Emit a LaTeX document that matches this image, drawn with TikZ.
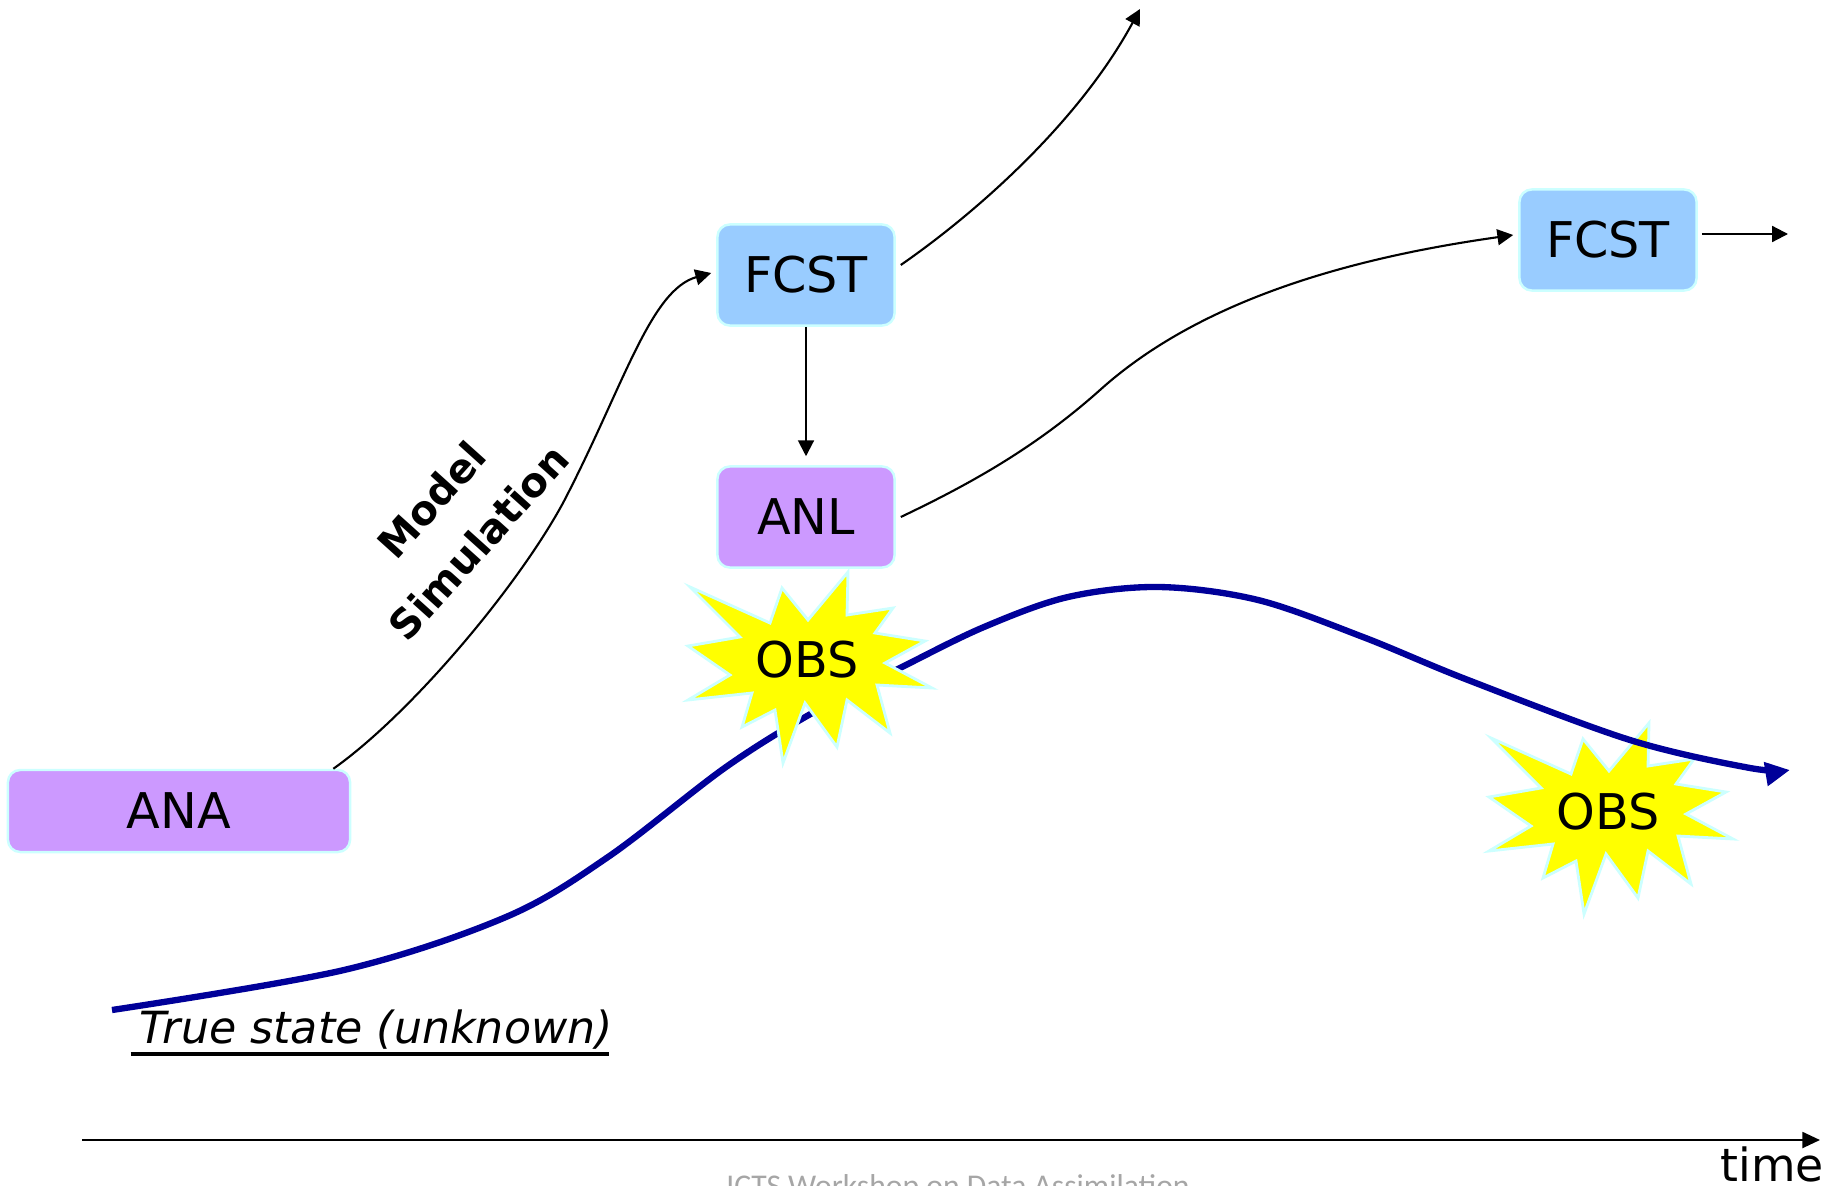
\documentclass[tikz,border=0pt]{standalone}
\usepackage{fontspec}
\setmainfont{DejaVu Sans}
\newfontfamily\icfootfont{Carlito}
\usetikzlibrary{arrows.meta}
\definecolor{anapurple}{HTML}{CC99FF}
\definecolor{fcstblue}{HTML}{99CCFF}
\definecolor{edgecyan}{HTML}{CCFFFF}
\definecolor{truenavy}{HTML}{000099}
\definecolor{obsyellow}{HTML}{FFFF00}
\definecolor{footgray}{HTML}{A6A6A6}
\tikzset{
  box/.style={draw=edgecyan, line width=0.7pt, rounded corners=3.5pt, inner sep=0pt, font=\fontsize{14}{16}\selectfont},
  anabox/.style={box, fill=anapurple},
  fcstbox/.style={box, fill=fcstblue},
  smallbox/.style={minimum width=1.77cm, minimum height=1.01cm},
  flow/.style={line width=0.6pt, -{Triangle[length=4.5pt,width=4.5pt]}},
  starshape/.style={fill=obsyellow, draw=edgecyan, line width=0.8pt, line join=miter},
  obstext/.style={font=\fontsize{14}{16}\selectfont, inner sep=0pt},
  truth/.style={draw=truenavy, line width=1.8pt, -{Triangle[length=7pt,width=6.5pt]}},
  obsstar/.pic={\draw[starshape] (-116,-78) -- (-36,-42) -- (-24,-77) -- (2,-45) -- (42,-93) -- (41,-50) -- (87,-57) -- (69,-32) -- (119,-24) -- (79,-2) -- (126,23) -- (71,20) -- (84,68) -- (41,35) -- (31,82) -- (-1,38) -- (-23,98) -- (-31,45) -- (-64,62) -- (-54,28) -- (-118,35) -- (-76,10) -- (-118,-19) -- (-66,-28) -- cycle;}
}
\begin{document}
\begin{tikzpicture}[x=0.01cm,y=-0.01cm]
\clip (0,0) rectangle (1837,1185);
\fill[white] (0,0) rectangle (1837,1185);

% boxes
\node[anabox, minimum width=3.42cm, minimum height=0.82cm] (ana) at (179,811) {ANA};
\node[fcstbox, smallbox] (fcst1) at (806,275) {FCST};
\node[anabox, smallbox] (anl) at (806,517) {ANL};
\node[fcstbox, smallbox] (fcst2) at (1608,240) {FCST};

% free ends
\coordinate (fcstup) at (1140,9);
\coordinate (fcst2out) at (1788,234);

% model simulation
\draw[flow] ([xshift=-0.18cm]ana.north east) .. controls (412,713) and (518,586) .. (563,503) .. controls (623,388) and (650,290) .. ([xshift=-0.05cm,yshift=0.02cm]fcst1.west);
\node[rotate=48, align=center, font=\bfseries\fontsize{11.5}{18}\selectfont, inner sep=0pt] (model) at (455,521) {Model\\Simulation};

\draw[flow] ([xshift=0.05cm,yshift=0.1cm]fcst1.east) .. controls (980,210) and (1080,120) .. (fcstup);
\draw[flow] (fcst1.south) -- ([yshift=0.09cm]anl.north);
\draw[flow] ([xshift=0.05cm]anl.east) .. controls (970,484) and (1035,448) .. (1100,390) .. controls (1200,300) and (1350,258) .. ([xshift=-0.05cm,yshift=0.05cm]fcst2.west);
\draw[flow] ([xshift=0.04cm]fcst2.east |- fcst2out) -- (fcst2out);

% observations and truth
\pic at (1607,816) {obsstar};
\draw[truth] plot[smooth, tension=0.55] coordinates {(112,1010) (344,970) (506,917) (608,857) (726,767) (814,712) (902,667) (984,627) (1068,597) (1159,587) (1258,600) (1363,637) (1468,680) (1630,740) (1750,768) (1790,770)};
\pic at (806,665) {obsstar};
\node[obstext] (obs1) at (807,660) {OBS};
\node[obstext] (obs2) at (1608,812) {OBS};

\node[anchor=base, inner sep=0pt, font=\itshape\fontsize{12.6}{15}\selectfont] (truelbl) at (376,1043) {True state (unknown)};
\draw[line width=1.1pt] ([yshift=-0.11cm,xshift=-0.08cm]truelbl.base west) -- ([yshift=-0.11cm,xshift=-0.04cm]truelbl.base east);

% time axis
\coordinate (t0) at (82,1140);
\coordinate (t1) at (1820,1140);
\draw[line width=0.7pt, -{Triangle[length=5pt,width=4.5pt]}] (t0) -- (t1);
\node[anchor=base, inner sep=0pt, font=\fontsize{13}{15}\selectfont] (timelbl) at (1772,1181) {time};

\node[anchor=base, inner sep=0pt, text=footgray, font=\icfootfont\fontsize{9}{11}\selectfont] (footer) at (958,1196) {ICTS Workshop on Data Assimilation};
\end{tikzpicture}
\end{document}
